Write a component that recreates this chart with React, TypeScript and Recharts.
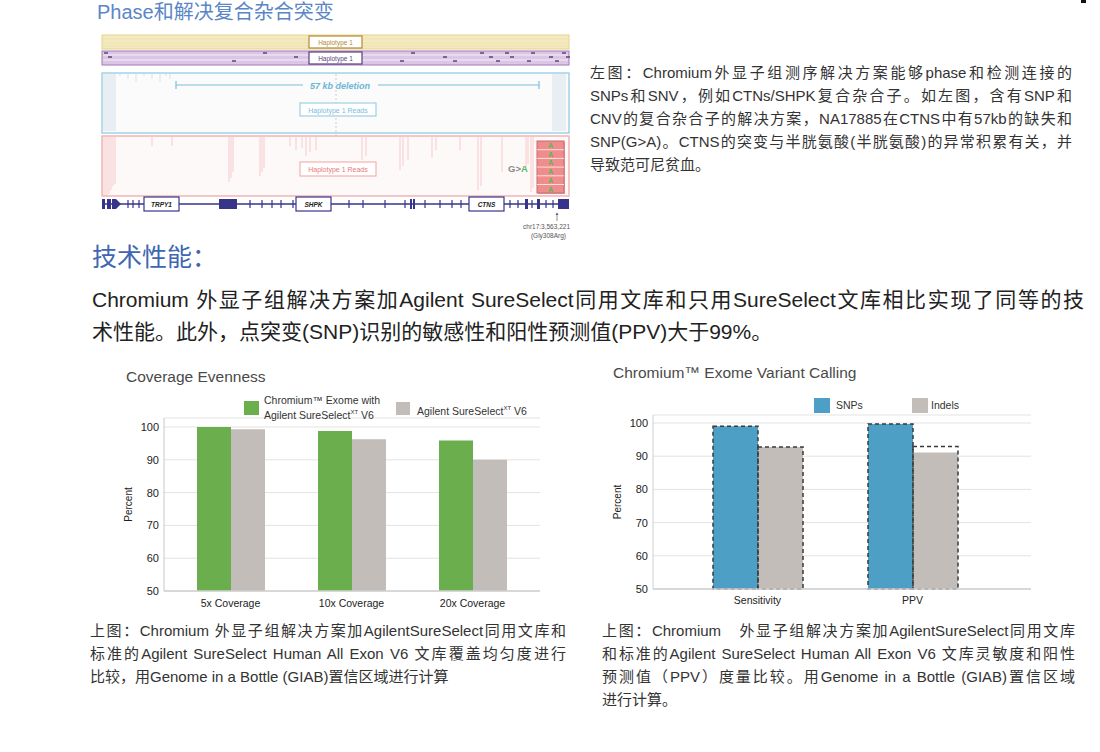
import { Bar, BarChart, CartesianGrid, Label, Legend, XAxis, YAxis } from 'recharts'

const coverageCategories = ['5x Coverage', '10x Coverage', '20x Coverage']
const chromiumCoverage = [100, 98.8, 95.9]
const sureSelectCoverage = [99.3, 96.3, 90]

const callingCategories = ['Sensitivity', 'PPV']
const snpValues = [99.0, 99.7]
const indelValues = [92.8, 91.1]
const snpOutline = [99.0, 99.7]
const indelOutline = [92.8, 92.9]

const percentTicks = [50, 60, 70, 80, 90, 100]

const coverageData = coverageCategories.map((name, i) => ({
  name,
  chromium: chromiumCoverage[i],
  sureselect: sureSelectCoverage[i],
}))

const callingData = callingCategories.map((name, i) => ({
  name,
  snps: snpValues[i],
  indels: indelValues[i],
  snpsRef: snpOutline[i],
  indelsRef: indelOutline[i],
}))

const SANS = '"Liberation Sans", "Noto Sans CJK SC", sans-serif'
const GREEN = '#6aae4e'
const GREY = '#c3bdba'
const BLUE = '#4d9fc5'

function TextLine({ x, y, w, size, color, last, children }: any) {
  return (
    <div
      style={{
        position: 'absolute',
        left: x,
        top: y,
        width: w,
        fontSize: size,
        lineHeight: `${Math.round(size * 1.3)}px`,
        color,
        whiteSpace: 'nowrap',
        textAlign: last ? 'left' : 'justify',
        textAlignLast: last ? 'left' : 'justify',
      }}
    >
      {children}
    </div>
  )
}

function CoverageLegend({ payload }: any) {
  const items = payload ?? []
  const green = items.find((p: any) => p.dataKey === 'chromium')
  const grey = items.find((p: any) => p.dataKey === 'sureselect')
  return (
    <div style={{ position: 'relative', width: 460, height: 70, fontSize: 10.5, color: '#333', fontFamily: SANS }}>
      {green && (
        <div style={{ position: 'absolute', left: 144, top: 41 }}>
          <div style={{ position: 'absolute', left: 0, top: 0, width: 15, height: 14, background: green.color }} />
          <div style={{ position: 'absolute', left: 20, top: -6, lineHeight: '11.5px', whiteSpace: 'nowrap' }}>
            Chromium™ Exome with
            <br />
            Agilent SureSelect<sup style={{ fontSize: 6 }}>XT</sup> V6
          </div>
        </div>
      )}
      {grey && (
        <div style={{ position: 'absolute', left: 296, top: 42 }}>
          <div style={{ position: 'absolute', left: 0, top: 0, width: 14, height: 13, background: grey.color }} />
          <div style={{ position: 'absolute', left: 21, top: 0, lineHeight: '13px', whiteSpace: 'nowrap' }}>
            Agilent SureSelect<sup style={{ fontSize: 6 }}>XT</sup> V6
          </div>
        </div>
      )}
    </div>
  )
}

function CallingLegend({ payload }: any) {
  const items = payload ?? []
  const order = [
    { key: 'snps', left: 224, textLeft: 22 },
    { key: 'indels', left: 322, textLeft: 19 },
  ]
  return (
    <div style={{ position: 'relative', width: 460, height: 60, fontSize: 10.5, color: '#333', fontFamily: SANS }}>
      {order.map((o) => {
        const p = items.find((it: any) => it.dataKey === o.key)
        if (!p) return null
        return (
          <div key={o.key} style={{ position: 'absolute', left: o.left, top: 38 }}>
            <div style={{ position: 'absolute', left: 0, top: 0, width: 16, height: 15, background: p.color }} />
            <div style={{ position: 'absolute', left: o.textLeft, top: 1, lineHeight: '13px' }}>{p.value}</div>
          </div>
        )
      })}
    </div>
  )
}

const tickStyle = { fill: '#222', fontSize: 11, fontFamily: SANS }
const xTickStyle = { fill: '#222', fontSize: 10.5, fontFamily: SANS }

function CoverageChart() {
  return (
    <BarChart
      width={460}
      height={260}
      data={coverageData}
      margin={{ top: 58, right: 20, left: 0, bottom: 5 }}
      barSize={34}
      barGap={0}
    >
      <CartesianGrid vertical={false} stroke="#e3e3e3" />
      <XAxis
        dataKey="name"
        height={24}
        padding={{ left: 6, right: 7 }}
        tick={xTickStyle}
        tickLine={false}
        tickSize={3}
        tickMargin={6}
        axisLine={{ stroke: '#cfcfcf', strokeWidth: 1.5 }}
      />
      <YAxis
        width={64}
        domain={[50, 100]}
        ticks={percentTicks}
        padding={{ top: 9 }}
        tick={tickStyle}
        tickLine={false}
        tickSize={3}
        tickMargin={2}
        axisLine={{ stroke: '#c8c8c8' }}
      >
        <Label value="Percent" angle={-90} position="center" dx={-4} style={{ fontSize: 10, fill: '#222', fontFamily: SANS }} />
      </YAxis>
      <Legend
        layout="horizontal"
        verticalAlign="middle"
        align="center"
        wrapperStyle={{ top: 0, left: 0, width: 460, height: 70 }}
        content={<CoverageLegend />}
      />
      <Bar dataKey="chromium" name="Chromium™ Exome with Agilent SureSelect V6" fill={GREEN} isAnimationActive={false} />
      <Bar dataKey="sureselect" name="Agilent SureSelect V6" fill={GREY} isAnimationActive={false} />
    </BarChart>
  )
}

function CallingChart() {
  const pad = { left: 27, right: 41 }
  return (
    <BarChart
      width={460}
      height={260}
      data={callingData}
      margin={{ top: 55, right: 19, left: 0, bottom: 7 }}
      barSize={45}
      barGap={0}
    >
      <CartesianGrid vertical={false} stroke="#e3e3e3" xAxisId="main" />
      <XAxis
        xAxisId="main"
        dataKey="name"
        height={24}
        padding={pad}
        tick={xTickStyle}
        tickLine={false}
        tickSize={3}
        tickMargin={5}
        axisLine={{ stroke: '#cfcfcf', strokeWidth: 1.5 }}
      />
      <XAxis xAxisId="ref" dataKey="name" hide padding={pad} />
      <YAxis
        width={63}
        domain={[50, 100]}
        ticks={percentTicks}
        padding={{ top: 8 }}
        tick={tickStyle}
        tickLine={false}
        tickSize={3}
        tickMargin={2}
        axisLine={{ stroke: '#d0d0d0' }}
      >
        <Label value="Percent" angle={-90} position="center" dx={-4} style={{ fontSize: 10, fill: '#222', fontFamily: SANS }} />
      </YAxis>
      <Legend
        layout="horizontal"
        verticalAlign="middle"
        align="center"
        wrapperStyle={{ top: 0, left: 0, width: 460, height: 60 }}
        content={<CallingLegend />}
      />
      <Bar xAxisId="main" dataKey="snps" name="SNPs" fill={BLUE} isAnimationActive={false} />
      <Bar xAxisId="main" dataKey="indels" name="Indels" fill={GREY} isAnimationActive={false} />
      <Bar
        xAxisId="ref"
        dataKey="snpsRef"
        legendType="none"
        fill="none"
        stroke="#3a3a3a"
        strokeWidth={1.5}
        strokeDasharray="4 3"
        isAnimationActive={false}
      />
      <Bar
        xAxisId="ref"
        dataKey="indelsRef"
        legendType="none"
        fill="none"
        stroke="#3a3a3a"
        strokeWidth={1.5}
        strokeDasharray="4 3"
        isAnimationActive={false}
      />
    </BarChart>
  )
}

// decorative genome browser panel (image in the original)
function PhaseFigure() {
  const navy = '#37358a'
  const blueReadsLeft = [103, 105, 107, 109, 111, 113, 115]
  const blueReadsTop = [120, 128, 136, 144, 152, 160, 166, 170]
  const redReads = [
    [103, 196], [105, 196], [107, 196], [109, 194], [111, 190], [113, 186], [115, 184],
    [152, 146], [172, 146], [229, 182], [231, 178], [233, 172], [260, 176], [262, 172],
    [264, 168], [290, 146], [296, 150], [302, 148], [306, 156], [310, 152], [316, 150],
    [362, 160], [366, 156], [400, 170], [403, 166], [408, 160], [432, 158], [436, 150],
    [460, 150], [478, 190], [481, 186], [502, 172], [526, 168], [528, 164], [531, 192], [533, 188],
  ]
  const geneTicks = [128, 133, 139, 250, 262, 272, 281, 293, 349, 363, 385, 405, 425, 440, 452, 461, 510, 518, 532, 546, 553]
  return (
    <svg width={600} height={245} style={{ position: 'absolute', left: 0, top: 0 }} fontFamily={SANS}>
      {/* haplotype bands */}
      <rect x={102} y={35} width={467} height={14} fill="#f4eac0" stroke="#e5d28a" />
      {[39, 43, 46].map((y) => (
        <line key={y} x1={103} x2={568} y1={y} y2={y} stroke="#eadb9e" strokeWidth={0.6} />
      ))}
      <rect x={309} y={36} width={53} height={12} fill="#fff" stroke="#b58a32" strokeWidth={1.2} />
      <text x={335.5} y={44.5} fontSize={6.5} fill="#b58a32" textAnchor="middle">Haplotype 1</text>
      <rect x={102} y={51} width={467} height={14} fill="#dcc6e5" stroke="#a27cba" />
      {[55, 60].map((y) => (
        <line key={y} x1={103} x2={568} y1={y} y2={y} stroke="#f4ecf7" strokeWidth={1.2} />
      ))}
      {[104, 108, 232, 263, 294, 400, 411, 443, 453, 480, 489, 496, 505, 510, 527, 531, 549, 555, 562, 566].map((x, i) => (
        <line key={x} x1={x} x2={x + 4} y1={53 + (i % 3) * 4} y2={53 + (i % 3) * 4} stroke="#4a2f6a" strokeWidth={1.3} />
      ))}
      <rect x={309} y={52} width={53} height={12} fill="#fff" stroke="#5a3f7a" strokeWidth={1.2} />
      <text x={335.5} y={60.5} fontSize={6.5} fill="#5a3f7a" textAnchor="middle">Haplotype 1</text>

      {/* deletion panel */}
      <rect x={102} y={73} width={467} height={60} fill="#fbfbfb" stroke="#93cde3" strokeWidth={1.3} />
      {blueReadsLeft.map((x) => (
        <line key={x} x1={x} x2={x} y1={74} y2={131} stroke="#c6d9e4" strokeWidth={0.7} />
      ))}
      {blueReadsLeft.map((x) => (
        <line key={x + 450} x1={x + 450} x2={x + 450} y1={74} y2={131} stroke="#c6d9e4" strokeWidth={0.7} />
      ))}
      {blueReadsTop.map((x, i) => (
        <line key={x} x1={x} x2={x} y1={74} y2={76 + (i % 3) * 3} stroke="#c6d9e4" strokeWidth={0.7} />
      ))}
      <line x1={176} x2={303} y1={85} y2={85} stroke="#7cc0dc" strokeWidth={1.2} />
      <line x1={378} x2={539} y1={85} y2={85} stroke="#7cc0dc" strokeWidth={1.2} />
      <line x1={176} x2={176} y1={81} y2={89} stroke="#7cc0dc" strokeWidth={1.2} />
      <line x1={539} x2={539} y1={81} y2={89} stroke="#7cc0dc" strokeWidth={1.2} />
      <text x={340} y={88.5} fontSize={9} fontStyle="italic" fontWeight="bold" fill="#6bb6d6" textAnchor="middle">
        57 kb deletion
      </text>
      <line x1={336} x2={336} y1={74} y2={196} stroke="#bbb" strokeWidth={0.7} strokeDasharray="2 2" />
      <rect x={300} y={103} width={76} height={13} fill="#fff" stroke="#93cde3" strokeWidth={1.1} />
      <text x={338} y={112.5} fontSize={7} fill="#7bbcd8" textAnchor="middle">Haplotype 1 Reads</text>

      {/* SNV panel */}
      <rect x={102} y={136} width={467} height={60} fill="#fdf9f9" stroke="#f2aaaa" strokeWidth={1.3} />
      {redReads.map(([x, y2]) => (
        <line key={`${x}-${y2}`} x1={x} x2={x} y1={137} y2={y2} stroke="#f5b8b8" strokeWidth={0.7} />
      ))}
      <rect x={300} y={162} width={76} height={14} fill="#fff" stroke="#f2aaaa" strokeWidth={1.1} />
      <text x={338} y={171.5} fontSize={7} fill="#e87a7a" textAnchor="middle">Haplotype 1 Reads</text>
      <text x={508} y={172} fontSize={9.5} fontWeight="bold" fill="#8a8a8a">
        G&gt;<tspan fill="#5cb85c">A</tspan>
      </text>
      <rect x={538} y={142} width={27} height={52} fill="#a86060" opacity={0.5} />
      <rect x={537} y={141} width={27} height={52} fill="#f08c8c" stroke="#c86a6a" />
      {[0, 1, 2, 3, 4, 5].map((k) => (
        <g key={k}>
          {k > 0 && <line x1={537} x2={564} y1={141 + k * 8.7} y2={141 + k * 8.7} stroke="#fbe0e0" strokeWidth={1} />}
          <text x={550.5} y={148 + k * 8.7} fontSize={7} fontWeight="bold" fill="#5cb85c" textAnchor="middle">A</text>
        </g>
      ))}

      {/* gene track */}
      <line x1={102} x2={569} y1={204} y2={204} stroke={navy} strokeWidth={1.3} />
      <rect x={102} y={199} width={3} height={10} fill={navy} />
      <rect x={107} y={199} width={4} height={10} fill={navy} />
      <path d="M112 199 L116 199 L121 204 L116 209 L112 209 Z" fill={navy} />
      <rect x={219} y={199} width={18} height={10} fill={navy} />
      <rect x={410} y={199} width={2} height={10} fill={navy} />
      <rect x={413} y={199} width={2} height={10} fill={navy} />
      <rect x={525} y={199} width={3} height={10} fill={navy} />
      <rect x={537} y={199} width={3} height={10} fill={navy} />
      <rect x={558} y={199} width={11} height={10} fill={navy} />
      {geneTicks.map((x) => (
        <line key={x} x1={x} x2={x} y1={200} y2={208} stroke={navy} strokeWidth={1.2} />
      ))}
      {[
        ['TRPY1', 144],
        ['SHPK', 296],
        ['CTNS', 469],
      ].map(([g, x]) => (
        <g key={g as string}>
          <rect x={x as number} y={197} width={35} height={14} fill="#fff" stroke={navy} strokeWidth={1.2} />
          <text x={(x as number) + 17.5} y={206.5} fontSize={6.5} fontWeight="bold" fontStyle="italic" fill="#222" textAnchor="middle">
            {g}
          </text>
        </g>
      ))}
      <line x1={557} x2={557} y1={213} y2={221} stroke="#666" strokeWidth={0.7} />
      <path d="M555.5 215 L557 212.5 L558.5 215 Z" fill="#666" />
      <text x={570} y={229} fontSize={6.5} fill="#555" textAnchor="end">chr17:3,563,221</text>
      <text x={566} y={238} fontSize={6.5} fill="#555" textAnchor="end">(Gly308Arg)</text>
    </svg>
  )
}

export default function App() {
  return (
    <div
      style={{
        position: 'absolute',
        left: 0,
        top: 0,
        width: 1100,
        height: 752,
        background: '#fff',
        overflow: 'hidden',
        fontFamily: SANS,
      }}
    >
      <div style={{ position: 'absolute', left: 1081, top: 0, width: 5, height: 3, background: '#111' }} />
      <div style={{ position: 'absolute', left: 97, top: -1, fontSize: 20, lineHeight: '26px', color: '#5a86c6' }}>
        Phase和解决复合杂合突变
      </div>
      <PhaseFigure />

      <TextLine x={590} y={63} w={482} size={15} color="#333">左图：Chromium外显子组测序解决方案能够phase和检测连接的</TextLine>
      <TextLine x={590} y={86} w={482} size={15} color="#333">SNPs和SNV，例如CTNs/SHPK复合杂合子。如左图，含有SNP和</TextLine>
      <TextLine x={590} y={109} w={482} size={15} color="#333">CNV的复合杂合子的解决方案，NA17885在CTNS中有57kb的缺失和</TextLine>
      <TextLine x={590} y={132} w={482} size={15} color="#333">SNP(G&gt;A)。CTNS的突变与半胱氨酸(半胱氨酸)的异常积累有关，并</TextLine>
      <TextLine x={590} y={155} w={482} size={15} color="#333" last>导致范可尼贫血。</TextLine>

      <div style={{ position: 'absolute', left: 92, top: 240, fontSize: 25, lineHeight: '34px', color: '#3f66b2' }}>技术性能：</div>
      <TextLine x={92} y={286} w={992} size={21} color="#222">
        Chromium 外显子组解决方案加Agilent SureSelect同用文库和只用SureSelect文库相比实现了同等的技
      </TextLine>
      <TextLine x={92} y={318} w={992} size={21} color="#222" last>
        术性能。此外，点突变(SNP)识别的敏感性和阳性预测值(PPV)大于99%。
      </TextLine>

      <div style={{ position: 'absolute', left: 126, top: 367, fontSize: 15.5, lineHeight: '20px', color: '#4a4a4a' }}>Coverage Evenness</div>
      <div style={{ position: 'absolute', left: 613, top: 363, fontSize: 15.5, lineHeight: '20px', color: '#4a4a4a' }}>
        Chromium™ Exome Variant Calling
      </div>

      <div style={{ position: 'absolute', left: 100, top: 360 }}>
        <CoverageChart />
      </div>
      <div style={{ position: 'absolute', left: 590, top: 360 }}>
        <CallingChart />
      </div>

      <TextLine x={90} y={621} w={476} size={15} color="#333">上图：Chromium 外显子组解决方案加AgilentSureSelect同用文库和</TextLine>
      <TextLine x={90} y={644} w={476} size={15} color="#333">标准的Agilent SureSelect Human All Exon V6 文库覆盖均匀度进行</TextLine>
      <TextLine x={90} y={667} w={476} size={15} color="#333" last>比较，用Genome in a Bottle (GIAB)置信区域进行计算</TextLine>

      <TextLine x={602} y={621} w={473} size={15} color="#333">上图：Chromium　外显子组解决方案加AgilentSureSelect同用文库</TextLine>
      <TextLine x={602} y={644} w={473} size={15} color="#333">和标准的Agilent SureSelect Human All Exon V6 文库灵敏度和阳性</TextLine>
      <TextLine x={602} y={667} w={473} size={15} color="#333">预测值（PPV）度量比较。用Genome in a Bottle (GIAB)置信区域</TextLine>
      <TextLine x={602} y={690} w={473} size={15} color="#333" last>进行计算。</TextLine>
    </div>
  )
}
